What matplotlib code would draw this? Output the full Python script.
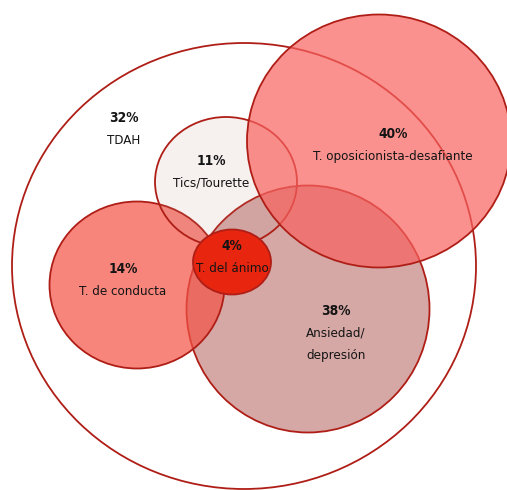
import matplotlib
matplotlib.use("Agg")
import matplotlib.pyplot as plt
from matplotlib.patches import Ellipse
from matplotlib import font_manager

# Data
categories = ["TDAH", "Tics/Tourette", "T. de conducta", "Ansiedad/\ndepresión",
              "T. oposicionista-desafiante", "T. del ánimo"]
percentages = [32, 11, 14, 38, 40, 4]

# Layout (pixel space): ellipse centre, width, height; label position
shapes = {
    "TDAH": dict(c=(244, 266), w=464, h=446, fill=(1, 1, 1), a=1.0, lab=(124, 118)),
    "Ansiedad/\ndepresión": dict(c=(308, 309), w=243, h=247, fill=(213/255, 168/255, 166/255), a=1.0, lab=(336, 311)),
    "T. de conducta": dict(c=(137, 285), w=175, h=167, fill=(244/255, 82/255, 68/255), a=0.7, lab=(123, 269)),
    "Tics/Tourette": dict(c=(226, 182), w=142, h=130, fill=(190/255, 140/255, 130/255), a=0.13, lab=(211, 161)),
    "T. oposicionista-desafiante": dict(c=(379, 141), w=264, h=253, fill=(248/255, 98/255, 95/255), a=0.7, lab=(393, 134)),
    "T. del ánimo": dict(c=(232, 262), w=78, h=65, fill=(232/255, 38/255, 16/255), a=1.0, lab=(232, 246)),
}
order = ["TDAH", "Ansiedad/\ndepresión", "T. de conducta", "Tics/Tourette",
         "T. oposicionista-desafiante", "T. del ánimo"]

edge = (175/255, 30/255, 22/255)

fig = plt.figure(figsize=(5.07, 4.90), dpi=100)
ax = fig.add_axes([0, 0, 1, 1])
ax.set_xlim(0, 507)
ax.set_ylim(490, 0)
ax.axis("off")

names = {f.name for f in font_manager.fontManager.ttflist}
fonts = [f for f in ["Liberation Sans Narrow", "DejaVu Sans"] if f in names]

for z, name in enumerate(order):
    s = shapes[name]
    ax.add_patch(Ellipse(s["c"], s["w"], s["h"], facecolor=(*s["fill"], s["a"]),
                         edgecolor=edge, linewidth=1.3, zorder=z + 1))

for name, pct in zip(categories, percentages):
    s = shapes[name]
    x, y = s["lab"]
    ax.text(x, y, f"{pct}%", ha="center", va="center", fontsize=9.8,
            fontweight="bold", family=fonts, fontstretch="condensed",
            color="#141414", zorder=20)
    for i, line in enumerate(name.split("\n")):
        ax.text(x, y + 22 * (i + 1), line, ha="center", va="center", fontsize=9.5,
                family=fonts, fontstretch="condensed", color="#141414", zorder=20)

fig.savefig("out.png", dpi=100)
